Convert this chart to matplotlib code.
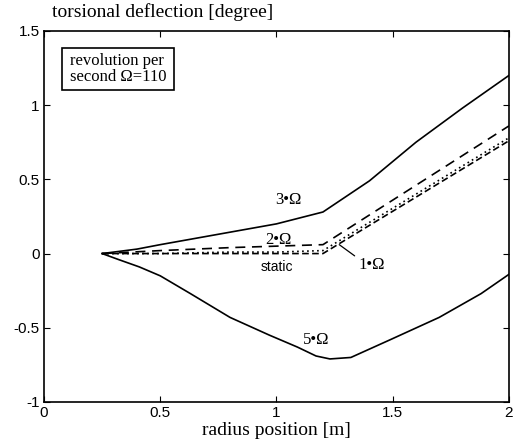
import matplotlib
matplotlib.use("Agg")
import matplotlib.pyplot as plt
from matplotlib.patches import Rectangle

# (radius [m], deflection [degree])
r_3 = [0.25, 0.40, 0.50, 0.75, 1.00, 1.20, 1.40, 1.60, 1.80, 2.00]
d_3 = [0.00, 0.03, 0.06, 0.13, 0.20, 0.28, 0.49, 0.75, 0.98, 1.20]

r_2 = [0.25, 0.50, 0.80, 1.00, 1.20, 1.40, 1.60, 1.80, 2.00]
d_2 = [0.00, 0.02, 0.04, 0.05, 0.06, 0.26, 0.46, 0.66, 0.86]

r_1 = [0.25, 0.50, 0.80, 1.00, 1.20, 1.40, 1.60, 1.80, 2.00]
d_1 = [0.00, 0.00, 0.01, 0.01, 0.02, 0.21, 0.40, 0.59, 0.78]

r_static = [0.25, 0.50, 0.80, 1.00, 1.20, 1.40, 1.60, 1.80, 2.00]
d_static = [0.00, 0.00, 0.00, 0.00, 0.00, 0.19, 0.38, 0.57, 0.76]

r_5 = [0.25, 0.32, 0.41, 0.50, 0.63, 0.80, 0.97, 1.09, 1.17, 1.23, 1.32, 1.49, 1.70, 1.88, 2.00]
d_5 = [0.00, -0.04, -0.09, -0.15, -0.27, -0.43, -0.55, -0.63, -0.69, -0.71, -0.70, -0.58, -0.43, -0.27, -0.14]

xticks = [0, 0.5, 1, 1.5, 2]
yticks = [-1, -0.5, 0, 0.5, 1, 1.5]

serif = ["Liberation Serif", "DejaVu Serif"]
sans = ["Liberation Sans", "DejaVu Sans"]
plt.rcParams["font.family"] = sans

fig = plt.figure(figsize=(5.22, 4.48), dpi=100)
ax = fig.add_axes([0.0843, 0.1027, 0.8907, 0.8283])

lw = 1.2
ax.plot(r_3, d_3, color="black", lw=lw)
ax.plot(r_2, d_2, color="black", lw=lw, dashes=(6, 4))
ax.plot(r_1, d_1, color="black", lw=lw, linestyle=(0, (1, 2)))
ax.plot(r_static, d_static, color="black", lw=lw, dashes=(4, 2))
ax.plot(r_5, d_5, color="black", lw=lw)

ax.text(1.05, 0.36, "3•Ω", family=serif, fontsize=12, ha="center", va="center")
ax.text(1.01, 0.09, "2•Ω", family=serif, fontsize=12, ha="center", va="center")
ax.text(1.00, -0.09, "static", family=sans, fontsize=10, ha="center", va="center")
ax.text(1.17, -0.58, "5•Ω", family=serif, fontsize=12, ha="center", va="center")
ax.annotate("1•Ω", xy=(1.27, 0.06), xytext=(1.41, -0.08), family=serif, fontsize=12,
            ha="center", va="center",
            arrowprops=dict(arrowstyle="-", color="black", lw=0.9, shrinkA=1, shrinkB=0,
                            relpos=(0.1, 0.8)))

ax.add_patch(Rectangle((0.039, 0.841), 0.241, 0.113, transform=ax.transAxes,
                       fc="white", ec="black", lw=1.2, zorder=3))
ax.text(0.159, 0.8976, "revolution per\nsecond Ω=110", transform=ax.transAxes,
        family=serif, fontsize=12, ha="center", va="center", multialignment="left",
        linespacing=1.05, zorder=4)

ax.set_xlim(0, 2)
ax.set_ylim(-1, 1.5)
ax.set_xticks(xticks)
ax.set_yticks(yticks)
ax.set_xticklabels(["0", "0.5", "1", "1.5", "2"])
ax.set_yticklabels(["-1", "-0.5", "0", "0.5", "1", "1.5"])
ax.tick_params(direction="in", top=True, right=True, length=4, labelsize=11, pad=3)
for s in ax.spines.values():
    s.set_linewidth(1.2)

ax.set_xlabel("radius position [m]", family=serif, fontsize=14, labelpad=1)
fig.text(0.10, 0.953, "torsional deflection [degree]", family=serif, fontsize=14,
         ha="left", va="bottom")

fig.savefig("out.png", dpi=100)
